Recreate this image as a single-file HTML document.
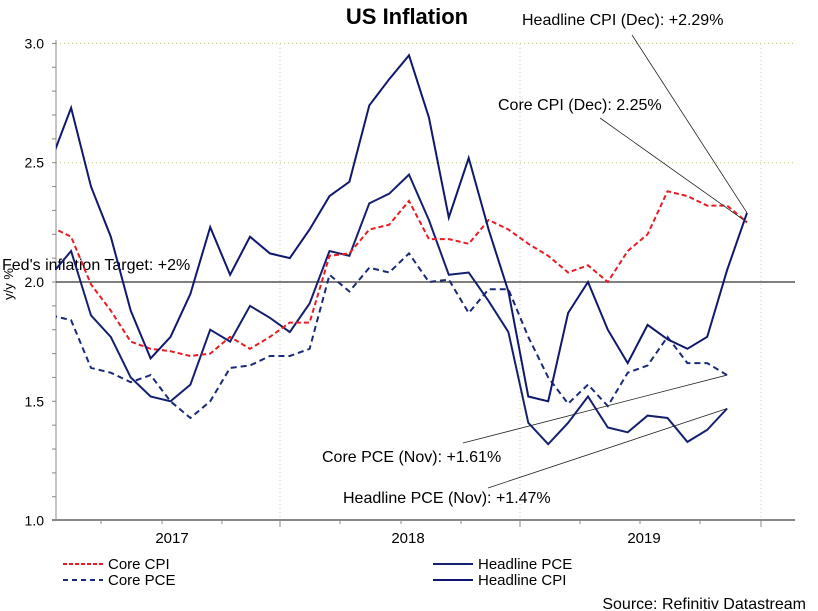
<!DOCTYPE html>
<html><head><meta charset="utf-8"><style>
body{margin:0;background:#fff;}
svg{display:block;font-family:"Liberation Sans",sans-serif;}
</style></head><body>
<svg id="chart" width="818" height="611" viewBox="0 0 818 611">
<defs><clipPath id="plotclip"><rect x="56" y="30" width="740" height="490"/></clipPath></defs>
<text x="407" y="24" text-anchor="middle" font-size="22" font-weight="bold" fill="#000">US Inflation</text>
<g id="grid"></g>
<g id="axes"></g>
<g id="series" clip-path="url(#plotclip)"></g>
<g id="annot"></g>
<g id="legend"></g>
<text x="806" y="609" text-anchor="end" font-size="16" fill="#000">Source: Refinitiv Datastream</text>
</svg>
<script>
const yTicks = [1.0, 1.5, 2.0, 2.5, 3.0];
const yearLabels = ["2017", "2018", "2019"];
const coreCPI = [2.23,2.19,1.99,1.88,1.75,1.72,1.71,1.69,1.70,1.77,1.72,1.77,1.83,1.83,2.11,2.12,2.22,2.24,2.34,2.18,2.18,2.16,2.26,2.22,2.16,2.11,2.04,2.07,2.00,2.13,2.20,2.38,2.36,2.32,2.32,2.25];
const corePCE = [1.86,1.84,1.64,1.62,1.58,1.61,1.50,1.43,1.50,1.64,1.65,1.69,1.69,1.72,2.03,1.96,2.06,2.04,2.12,2.00,2.01,1.87,1.97,1.97,1.77,1.60,1.49,1.57,1.48,1.62,1.65,1.77,1.66,1.66,1.61];
const headlinePCE = [2.03,2.13,1.86,1.77,1.60,1.52,1.50,1.57,1.80,1.75,1.90,1.85,1.79,1.91,2.13,2.11,2.33,2.37,2.45,2.26,2.03,2.04,1.92,1.79,1.41,1.32,1.41,1.52,1.39,1.37,1.44,1.43,1.33,1.38,1.47];
const headlineCPI = [2.51,2.73,2.40,2.19,1.88,1.68,1.77,1.95,2.23,2.03,2.19,2.12,2.10,2.22,2.36,2.42,2.74,2.85,2.95,2.69,2.27,2.52,2.22,1.96,1.52,1.50,1.87,2.00,1.80,1.66,1.82,1.76,1.72,1.77,2.05,2.29];
const fedTarget = 2.0;

const NS="http://www.w3.org/2000/svg";
function X(i){return 51.2+i*19.88;}
function Y(v){return 282-(v-2)*238.6;}
function mk(tag,attrs,parent){const e=document.createElementNS(NS,tag);for(const k in attrs)e.setAttribute(k,attrs[k]);parent.appendChild(e);return e;}
const grid=document.getElementById('grid'),axes=document.getElementById('axes'),series=document.getElementById('series'),annot=document.getElementById('annot'),legend=document.getElementById('legend');

[2.5,3.0].forEach(v=>{const l=mk('line',{x1:56,x2:795,y1:Y(v),y2:Y(v),stroke:'#b8c878','stroke-dasharray':'1,3'},grid);

});
[280,520,761].forEach(x=>{const l=mk('line',{x1:x,x2:x,y1:44,y2:519,stroke:'#c8d898','stroke-dasharray':'1,3'},grid);

});

let a=mk('line',{x1:56,x2:56,y1:40,y2:520,stroke:'#888'},axes);


a=mk('line',{x1:52,x2:795,y1:520,y2:520,stroke:'#888','stroke-width':2},axes);


for(let v=1.0;v<=3.001;v+=0.1){mk('line',{x1:52,x2:56,y1:Y(v),y2:Y(v),stroke:'#888'},axes);}
yTicks.forEach(v=>{const t=mk('text',{x:44,y:Y(v)+5,'text-anchor':'end','font-size':14,fill:'#000'},axes);t.textContent=v.toFixed(1);

});
[101,162,222,340,401,461,580,640,700].forEach(x=>mk('line',{x1:x,x2:x,y1:520,y2:524,stroke:'#888'},axes));
[280,520,761].forEach(x=>mk('line',{x1:x,x2:x,y1:520,y2:527,stroke:'#888'},axes));
yearLabels.forEach((s,k)=>{const t=mk('text',{x:172+k*236,y:543,'text-anchor':'middle','font-size':15,fill:'#000'},axes);t.textContent=s;

});
let yl=mk('text',{x:0,y:0,transform:'translate(13,284) rotate(-90)','text-anchor':'middle','font-size':13,fill:'#000'},axes);yl.textContent='y/y %';



let fl=mk('line',{x1:56,x2:795,y1:Y(fedTarget),y2:Y(fedTarget),stroke:'#333','stroke-width':1.3},axes);


let ft=mk('text',{x:2,y:270,'font-size':16,fill:'#000'},axes);ft.textContent="Fed's inflation Target: +2%";



function line(data,color,dash,name){
 const p=data.map((v,i)=>(i?'L':'M')+X(i).toFixed(1)+','+Y(v).toFixed(1)).join(' ');
 const e=mk('path',{d:p,fill:'none',stroke:color,'stroke-width':2,'stroke-dasharray':dash||'none'},series);
 
 
}
line(corePCE,'#1a2a78','6,4','core-pce-line');
line(headlinePCE,'#14206e','','headline-pce-line');
line(coreCPI,'#e81c24','5,3','core-cpi-line');
line(headlineCPI,'#10186e','','headline-cpi-line');

function ann(txt,tx,ty,x1,y1,i,v,name){
 const t=mk('text',{x:tx,y:ty,'font-size':16,fill:'#000'},annot);t.textContent=txt;
 
 
 const l=mk('line',{x1:x1,y1:y1,x2:X(i),y2:Y(v),stroke:'#222','stroke-width':0.8},annot);
 
 
}
ann('Headline CPI (Dec): +2.29%',522,25,632,35,headlineCPI.length-1,headlineCPI[headlineCPI.length-1],'headline-cpi-annotation');
ann('Core CPI (Dec): 2.25%',498,110,600,118,coreCPI.length-1,coreCPI[coreCPI.length-1],'core-cpi-annotation');
ann('Core PCE (Nov): +1.61%',322,462,463,443,corePCE.length-1,corePCE[corePCE.length-1],'core-pce-annotation');
ann('Headline PCE (Nov): +1.47%',343,503,488,488,headlinePCE.length-1,headlinePCE[headlinePCE.length-1],'headline-pce-annotation');

const leg=[['Core CPI','#e81c24','4,2',63,564],['Core PCE','#1a2a78','5,4',63,580],['Headline PCE','#14206e','',433,564],['Headline CPI','#10186e','',433,580]];
leg.forEach(d=>{
 const g=mk('g',{},legend);
 
 
 mk('line',{x1:d[3],x2:d[3]+40,y1:d[4],y2:d[4],stroke:d[1],'stroke-width':2,'stroke-dasharray':d[2]||'none'},g);
 const t=mk('text',{x:d[3]+45,y:d[4]+5,'font-size':15,fill:'#000'},g);t.textContent=d[0];
});
</script>
</body></html>
